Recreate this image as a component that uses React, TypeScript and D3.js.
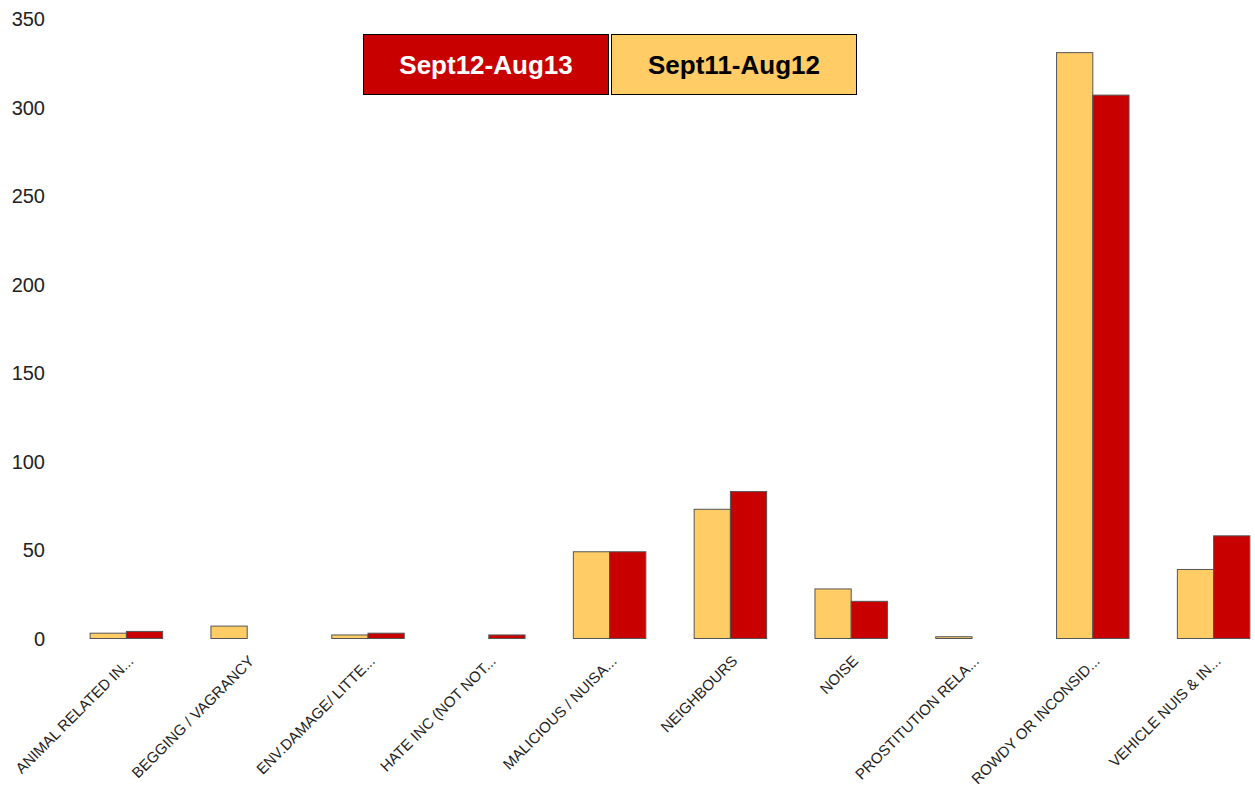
import React from "react";
import * as d3 from "d3";

const categories = [
  "ANIMAL RELATED IN...",
  "BEGGING / VAGRANCY",
  "ENV.DAMAGE/ LITTE...",
  "HATE INC (NOT NOT...",
  "MALICIOUS / NUISA...",
  "NEIGHBOURS",
  "NOISE",
  "PROSTITUTION RELA...",
  "ROWDY OR INCONSID...",
  "VEHICLE NUIS & IN...",
];
const sept11Aug12 = [3, 7, 2, 0, 49, 73, 28, 1, 331, 39];
const sept12Aug13 = [4, 0, 3, 2, 49, 83, 21, 0, 307, 58];
const yTicks = [0, 50, 100, 150, 200, 250, 300, 350];
const seriesNames = ["Sept11-Aug12", "Sept12-Aug13"];
const colors = ["#ffcc66", "#c80000"];

export default function App() {
  const W = 1255, H = 788;
  const y = d3.scaleLinear().domain([0, 350]).range([638.5, 19]);
  const x = d3.scaleBand<string>().domain(categories).range([66, 1274]).paddingInner(0.4).paddingOuter(0.2);
  const inner = d3.scaleBand<string>().domain(seriesNames).range([0, x.bandwidth()]);
  const series = [sept11Aug12, sept12Aug13];
  return (
    <svg width={W} height={H} style={{ position: "absolute", left: 0, top: 0 }} fontFamily="Arial, 'Liberation Sans', sans-serif">
      <rect width={W} height={H} fill="#fff" />
      {yTicks.map((t) => (
        <text key={t} x={45} y={y(t)} dy="0.35em" textAnchor="end" fontSize={20} fill="#222">{t}</text>
      ))}
      {categories.map((c, i) => (
        <g key={c}>
          {series.map((s, j) => {
            const v = s[i];
            if (v <= 0) return null;
            const x0 = (x(c) as number) + (inner(seriesNames[j]) as number);
            return (
              <rect key={j} x={x0} y={y(v)} width={inner.bandwidth()} height={y(0) - y(v)}
                fill={colors[j]} stroke="#555" strokeWidth={1} />
            );
          })}
          <text
            transform={`translate(${(x(c) as number) + x.bandwidth() / 2 + 8},${662}) rotate(-45)`}
            textAnchor="end" fontSize={15} fill="#222">{c}</text>
        </g>
      ))}
      <g>
        <rect x={363.5} y={34.5} width={245} height={60} fill={colors[1]} stroke="#000" strokeWidth={1} />
        <text x={486} y={65} dy="0.35em" textAnchor="middle" fontSize={26} fontWeight="bold" fill="#fff">{seriesNames[1]}</text>
        <rect x={611.5} y={34.5} width={245} height={60} fill={colors[0]} stroke="#000" strokeWidth={1} />
        <text x={734} y={65} dy="0.35em" textAnchor="middle" fontSize={26} fontWeight="bold" fill="#000">{seriesNames[0]}</text>
      </g>
    </svg>
  );
}
